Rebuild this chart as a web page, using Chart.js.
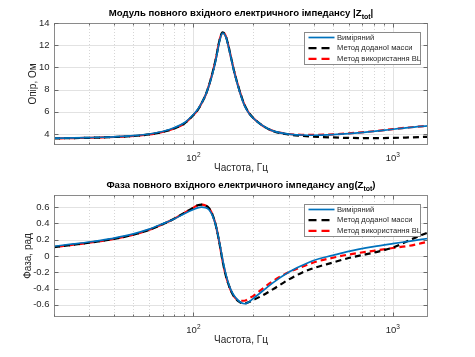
<!DOCTYPE html>
<html><head><meta charset="utf-8">
<script src="https://cdn.jsdelivr.net/npm/chart.js@4/dist/chart.umd.min.js"></script>
<style>
html,body{margin:0;padding:0;background:#fff;width:475px;height:357px;overflow:hidden}
canvas{position:absolute;left:0;top:0}
</style></head><body>
<canvas id="c1" width="475" height="357"></canvas>
<canvas id="c2" width="475" height="357"></canvas>
<script>
// ---------- data ----------
const freq = [20, 25, 30, 35, 40, 50, 60, 70, 80, 90, 100, 105, 110, 115, 120, 125, 130, 135, 140, 145, 150, 155, 160, 170, 180, 190, 200, 220, 250, 300, 350, 400, 500, 600, 800, 1000, 1200, 1500];

const magMeasured  = [3.62, 3.64, 3.67, 3.70, 3.74, 3.84, 3.99, 4.22, 4.55, 5.00, 5.75, 6.20, 6.80, 7.50, 8.40, 9.50, 10.8, 12.3, 13.1, 12.8, 11.85, 10.7, 9.6, 7.9, 6.6, 5.85, 5.40, 4.80, 4.27, 3.98, 3.90, 3.88, 3.93, 4.02, 4.22, 4.42, 4.57, 4.72];
const magAddedMass = [3.60, 3.62, 3.65, 3.68, 3.72, 3.81, 3.95, 4.17, 4.49, 4.94, 5.70, 6.15, 6.78, 7.50, 8.45, 9.60, 10.9, 12.4, 13.15, 12.85, 11.9, 10.75, 9.65, 7.95, 6.65, 5.88, 5.42, 4.80, 4.27, 3.95, 3.83, 3.76, 3.68, 3.64, 3.62, 3.64, 3.68, 3.74];
const magBL        = [3.60, 3.62, 3.65, 3.68, 3.72, 3.81, 3.95, 4.17, 4.49, 4.94, 5.70, 6.15, 6.78, 7.50, 8.45, 9.60, 10.9, 12.4, 13.15, 12.85, 11.9, 10.75, 9.65, 7.95, 6.65, 5.88, 5.42, 4.80, 4.28, 3.99, 3.92, 3.91, 3.96, 4.05, 4.24, 4.43, 4.58, 4.73];

const phaseMeasured  = [0.12, 0.148, 0.172, 0.196, 0.22, 0.272, 0.33, 0.395, 0.455, 0.52, 0.572, 0.592, 0.60, 0.595, 0.565, 0.49, 0.36, 0.17, -0.04, -0.21, -0.34, -0.43, -0.49, -0.56, -0.587, -0.565, -0.52, -0.44, -0.33, -0.20, -0.117, -0.055, 0.008, 0.057, 0.115, 0.152, 0.18, 0.215];
const phaseAddedMass = [0.11, 0.138, 0.163, 0.187, 0.21, 0.262, 0.322, 0.39, 0.458, 0.53, 0.595, 0.623, 0.632, 0.622, 0.585, 0.50, 0.36, 0.16, -0.06, -0.23, -0.35, -0.44, -0.50, -0.565, -0.585, -0.565, -0.54, -0.49, -0.41, -0.29, -0.205, -0.15, -0.08, -0.025, 0.04, 0.105, 0.19, 0.29];
const phaseBL        = [0.11, 0.138, 0.163, 0.187, 0.21, 0.262, 0.322, 0.39, 0.458, 0.53, 0.595, 0.623, 0.632, 0.622, 0.585, 0.50, 0.36, 0.16, -0.06, -0.23, -0.35, -0.44, -0.50, -0.55, -0.55, -0.52, -0.49, -0.41, -0.31, -0.20, -0.135, -0.08, -0.022, 0.018, 0.064, 0.098, 0.125, 0.175];

const seriesNames = ['Виміряний', 'Метод доданої масси', 'Метод використання BL'];
const magTicks = [4, 6, 8, 10, 12, 14];
const phaseTicks = [-0.6, -0.4, -0.2, 0, 0.2, 0.4, 0.6];
const xMajorTicks = [100, 1000];
const xMajorExp = ['2', '3'];
const xMinorTicks = [20, 30, 40, 50, 60, 70, 80, 90, 200, 300, 400, 500, 600, 700, 800, 900];
const xLabel = 'Частота, Гц';

// ---------- helpers ----------
const FONT = '"Liberation Sans", Arial, Helvetica, sans-serif';
const TXT = '#262626';
function pts(ys) { return freq.map((f, i) => ({x: f, y: ys[i]})); }
function mkDatasets(a, b, c) {
  return [
    {label: seriesNames[0], data: pts(a), borderColor: '#0072BD', borderWidth: 1.7, pointRadius: 0, cubicInterpolationMode: 'monotone', fill: false},
    {label: seriesNames[1], data: pts(b), borderColor: '#000000', borderWidth: 2.2, borderDash: [6, 4], borderDashOffset: 0, pointRadius: 0, cubicInterpolationMode: 'monotone', fill: false},
    {label: seriesNames[2], data: pts(c), borderColor: '#ff0000', borderWidth: 2.2, borderDash: [6, 4], borderDashOffset: 5, pointRadius: 0, cubicInterpolationMode: 'monotone', fill: false}
  ];
}
function seg(ctx, x1, y1, x2, y2) { ctx.beginPath(); ctx.moveTo(x1, y1); ctx.lineTo(x2, y2); ctx.stroke(); }

function decor(cfg) {
  return {
    id: 'decor',
    beforeDatasetsDraw(chart) {
      const {ctx, chartArea: a, scales: {x, y}} = chart;
      ctx.save();
      ctx.lineWidth = 1;
      ctx.strokeStyle = '#e2e2e2';
      cfg.yTicks.forEach(v => { const py = Math.round(y.getPixelForValue(v)) + 0.5; seg(ctx, a.left, py, a.right, py); });
      xMajorTicks.forEach(v => { const px = Math.round(x.getPixelForValue(v)) + 0.5; seg(ctx, px, a.top, px, a.bottom); });
      ctx.strokeStyle = '#d6d6d6';
      ctx.setLineDash([1, 2]);
      xMinorTicks.forEach(v => { const px = Math.round(x.getPixelForValue(v)) + 0.5; seg(ctx, px, a.top, px, a.bottom); });
      ctx.restore();
    },
    afterDatasetsDraw(chart) {
      const {ctx, chartArea: a, scales: {x, y}} = chart;
      ctx.save();
      // box
      ctx.strokeStyle = '#8a8a8a';
      ctx.lineWidth = 1;
      const L = Math.round(a.left) + 0.5, R = Math.round(a.right) - 0.5, T = Math.round(a.top) + 0.5, B = Math.round(a.bottom) - 0.5;
      ctx.strokeRect(L, T, R - L, B - T);
      // ticks
      ctx.strokeStyle = '#6a6a6a';
      cfg.yTicks.forEach(v => { const py = Math.round(y.getPixelForValue(v)) + 0.5; seg(ctx, L, py, L + 4, py); seg(ctx, R, py, R - 4, py); });
      xMajorTicks.forEach(v => { const px = Math.round(x.getPixelForValue(v)) + 0.5; seg(ctx, px, B, px, B - 4); seg(ctx, px, T, px, T + 4); });
      xMinorTicks.forEach(v => { const px = Math.round(x.getPixelForValue(v)) + 0.5; seg(ctx, px, B, px, B - 2); seg(ctx, px, T, px, T + 2); });
      // y tick labels
      ctx.fillStyle = TXT;
      ctx.font = '9.5px ' + FONT;
      ctx.textAlign = 'right';
      ctx.textBaseline = 'middle';
      cfg.yTicks.forEach(v => { ctx.fillText(cfg.fmt(v), a.left - 4.5, y.getPixelForValue(v)); });
      // x tick labels (10^n)
      ctx.textAlign = 'left';
      ctx.textBaseline = 'alphabetic';
      xMajorTicks.forEach((v, i) => {
        const px = x.getPixelForValue(v);
        ctx.font = '9.5px ' + FONT; const w1 = ctx.measureText('10').width;
        ctx.font = '6.5px ' + FONT; const w2 = ctx.measureText(xMajorExp[i]).width;
        const x0 = px - (w1 + w2) / 2;
        const by = a.bottom + 15.5;
        ctx.font = '9.5px ' + FONT; ctx.fillText('10', x0, by);
        ctx.font = '6.5px ' + FONT; ctx.fillText(xMajorExp[i], x0 + w1, by - 4);
      });
      // x label
      ctx.font = '10px ' + FONT;
      ctx.textAlign = 'center';
      ctx.textBaseline = 'middle';
      ctx.fillText(xLabel, (a.left + a.right) / 2, a.bottom + 23.5);
      // y label
      ctx.save();
      ctx.translate(cfg.yLabelX, (a.top + a.bottom) / 2);
      ctx.rotate(-Math.PI / 2);
      ctx.fillText(cfg.yLabel, 0, 0);
      ctx.restore();
      // title with subscript
      ctx.textAlign = 'left';
      ctx.textBaseline = 'alphabetic';
      const fB = 'bold 9.6px ' + FONT, fS = 'bold 7px ' + FONT;
      ctx.font = fB; const w1 = ctx.measureText(cfg.title[0]).width;
      ctx.font = fS; const w2 = ctx.measureText(cfg.title[1]).width;
      ctx.font = fB; const w3 = ctx.measureText(cfg.title[2]).width;
      let tx = (a.left + a.right) / 2 - (w1 + w2 + w3) / 2;
      const tb = a.top - 7.5;
      ctx.fillStyle = '#000';
      ctx.font = fB; ctx.fillText(cfg.title[0], tx, tb); tx += w1;
      ctx.font = fS; ctx.fillText(cfg.title[1], tx, tb + 3); tx += w2;
      ctx.font = fB; ctx.fillText(cfg.title[2], tx, tb);
      // legend
      const lw = 116, lh = 32;
      const lx = Math.round(a.right - 8 - lw) + 0.5, ly = Math.round(a.top + 9) + 0.5;
      ctx.fillStyle = '#fff';
      ctx.fillRect(lx, ly, lw, lh);
      ctx.strokeStyle = '#8a8a8a'; ctx.lineWidth = 1; ctx.setLineDash([]);
      ctx.strokeRect(lx, ly, lw, lh);
      ctx.font = '7.6px ' + FONT;
      ctx.textBaseline = 'middle';
      chart.data.datasets.forEach((ds, i) => {
        const ry = ly + 5 + i * 10.7;
        ctx.strokeStyle = ds.borderColor;
        ctx.lineWidth = ds.borderWidth;
        ctx.setLineDash(ds.borderDash ? [8, 5] : []);
        ctx.lineDashOffset = 0;
        seg(ctx, lx + 4, ry, lx + 30, ry);
        ctx.setLineDash([]);
        ctx.fillStyle = TXT;
        ctx.fillText(ds.label, lx + 32.5, ry);
      });
      ctx.restore();
    }
  };
}

function makeChart(id, datasets, ymin, ymax, pad, cfg) {
  return new Chart(document.getElementById(id), {
    type: 'line',
    data: {datasets},
    options: {
      responsive: false, animation: false, devicePixelRatio: 1,
      layout: {padding: pad},
      plugins: {legend: {display: false}, tooltip: {enabled: false}, title: {display: false}},
      scales: {
        x: {type: 'logarithmic', min: 20, max: 1500, display: false},
        y: {type: 'linear', min: ymin, max: ymax, display: false}
      }
    },
    plugins: [decor(cfg)]
  });
}

makeChart('c1', mkDatasets(magMeasured, magAddedMass, magBL), 3, 14,
  {left: 54, right: 47, top: 23, bottom: 212},
  {yTicks: magTicks, fmt: v => String(v), yLabel: 'Опір, Ом', yLabelX: 33,
   title: ['Модуль повного вхідного електричного імпедансу |Z', 'tot', '|']});

makeChart('c2', mkDatasets(phaseMeasured, phaseAddedMass, phaseBL), -0.75, 0.75,
  {left: 54, right: 47, top: 195, bottom: 40},
  {yTicks: phaseTicks, fmt: v => (v === 0 ? '0' : v.toFixed(1)), yLabel: 'Фаза, рад', yLabelX: 28,
   title: ['Фаза повного вхідного електричного імпедансу ang(Z', 'tot', ')']});
</script>
</body></html>
